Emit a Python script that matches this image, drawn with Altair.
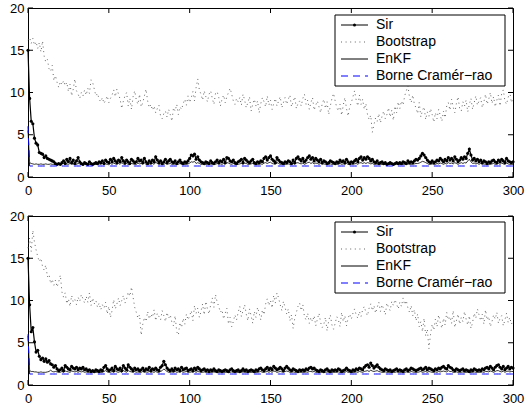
import altair as alt
import pandas as pd

# ---------------- data ----------------
X_TICKS = [0, 50, 100, 150, 200, 250, 300]
Y_TICKS = [0, 5, 10, 15, 20]
LEGEND_LABELS = ["Sir", "Bootstrap", "EnKF", "Borne Cramér\u2212rao"]

BOOT_TOP = [
    16.2, 16.5, 15.8, 16.4, 15.6, 16.0, 15.2, 15.9, 14.8, 16.1,
    14.3, 13.6, 13.9, 12.8, 12.5, 13.2, 11.4, 12.0, 11.2, 10.6,
    11.3, 10.9, 11.4, 10.8, 11.2, 10.1, 11.0, 9.6, 10.4, 11.6,
    10.2, 9.8, 9.3, 10.0, 9.6, 10.3, 9.7, 10.5, 9.9, 11.5,
    11.2, 10.4, 9.6, 9.9, 9.2, 8.9, 9.4, 8.7, 9.1, 9.6,
    8.8, 9.3, 9.7, 10.3, 9.5, 10.4, 9.8, 9.2, 8.1, 9.0,
    9.6, 10.0, 8.4, 9.3, 8.0, 9.5, 10.2, 9.1, 8.6, 9.8,
    8.3, 8.8, 9.6, 10.4, 9.0, 8.2, 8.6, 7.9, 8.4, 7.6,
    8.1, 8.5, 7.2, 6.9, 7.5, 7.8, 7.1, 8.0, 7.4, 6.6,
    8.2, 7.8, 8.6, 7.4, 8.3, 8.0, 8.7, 9.2, 8.5, 9.6,
    8.8, 9.4, 10.1, 9.0, 10.6, 11.6, 10.3, 9.8, 9.1, 10.2,
    9.5, 8.9, 9.8, 10.2, 9.3, 8.6, 9.9, 10.1, 9.4, 8.4,
    9.2, 9.7, 8.8, 9.5, 10.0, 10.5, 9.8, 9.0, 8.6, 9.3,
    8.9, 9.4, 8.5, 9.8, 9.1, 8.2, 8.8, 9.5, 7.8, 8.6,
    9.2, 8.4, 9.0, 7.6, 8.7, 9.4, 8.9, 8.3, 9.6, 8.5,
    9.1, 8.0, 8.7, 9.3, 8.4, 9.0, 9.5, 8.2, 8.8, 9.4,
    8.6, 9.2, 9.7, 8.3, 8.9, 9.5, 8.1, 8.7, 9.0, 8.4,
    9.3, 9.8, 8.6, 9.1, 8.0, 8.8, 9.4, 7.9, 8.5, 9.0,
    8.3, 7.6, 8.7, 9.2, 8.1, 8.9, 7.4, 8.4, 9.3, 9.9,
    9.0, 8.2, 7.8, 8.6, 7.3, 8.5, 9.4, 8.1, 7.2, 8.3,
    8.8, 9.5, 10.2, 9.1, 8.4, 9.7, 8.6, 9.2, 8.0, 8.7,
    7.4, 6.8, 7.3, 5.3, 6.2, 7.0, 6.6, 7.5, 6.4, 7.2,
    7.8, 6.9, 7.4, 8.2, 7.1, 7.9, 6.7, 8.4, 7.6, 8.9,
    8.1, 9.0, 8.5, 9.6, 10.2, 10.8, 9.4, 8.8, 9.7, 8.6,
    8.2, 7.5, 8.8, 7.1, 7.9, 8.3, 6.8, 7.7, 7.2, 8.1,
    7.4, 6.5, 7.6, 6.9, 8.0, 7.3, 6.6, 7.8, 7.0, 8.4,
    8.8, 7.9, 9.2, 8.3, 7.6, 8.7, 9.5, 8.1, 7.8, 8.9,
    8.4, 9.1, 7.7, 8.6, 9.3, 8.0, 8.8, 9.6, 8.5, 9.0,
    9.4, 8.2, 8.9, 9.8, 8.6, 9.2, 10.0, 8.7, 9.5, 8.3,
    9.1, 9.7, 8.4, 9.9, 10.3, 9.0, 8.6, 9.4, 10.1, 8.8,
    9.3,
]

SIR_TOP = [
    15.0, 9.3, 6.6, 6.3, 4.6, 4.0, 3.8, 2.9, 2.8, 2.7,
    2.3, 2.5, 2.2, 2.1, 2.0, 1.9, 1.8, 1.6, 1.5, 1.6,
    1.5, 1.7, 1.9, 1.6, 2.1, 1.8, 2.2, 1.7, 2.0, 1.6,
    1.9, 2.3, 1.8, 1.6, 1.5, 1.7, 1.6, 1.5, 1.8, 1.6,
    1.5, 1.6, 1.7, 1.6, 1.8, 1.7, 1.9, 1.6, 2.0, 1.8,
    1.7, 2.1, 1.8, 2.2, 1.9, 1.7, 2.0, 1.8, 2.3, 1.9,
    1.7, 2.0, 1.8, 1.6, 2.1, 1.9, 1.7, 1.8, 2.2, 1.9,
    2.0, 1.7, 2.2, 1.8, 1.6, 1.9, 1.7, 2.0, 1.8, 2.4,
    2.0, 1.7, 1.9, 1.6, 1.8, 2.1, 1.7, 1.9, 2.1, 1.8,
    1.7, 1.9, 1.6, 1.8, 2.0, 1.7, 1.6, 1.8, 1.7, 1.9,
    2.2, 2.6, 2.5, 2.7, 2.1, 2.4, 2.0, 1.8, 1.7, 1.6,
    1.8, 1.7, 1.6, 1.9, 1.7, 1.6, 1.8, 2.0, 1.7, 1.9,
    1.8, 2.1, 1.7, 2.3, 2.2, 1.9, 1.8, 2.0, 1.7, 1.6,
    1.8, 1.9, 2.1, 1.7, 2.2, 2.0, 1.8, 1.7, 1.9, 2.1,
    1.7, 1.6, 1.8, 1.7, 1.9, 1.8, 2.2, 2.4, 2.0, 2.3,
    2.5, 2.1, 1.9, 1.7, 2.3, 2.0, 1.8, 1.7, 1.6, 1.8,
    1.7, 1.9, 1.8, 1.6, 2.0, 1.7, 2.2, 2.4, 2.1, 1.9,
    2.2, 1.8, 2.0, 2.3, 2.5, 2.1, 2.3, 1.9, 2.2, 2.0,
    1.8, 2.1, 1.7, 1.9, 1.8, 1.6, 1.7, 1.9, 1.8, 1.7,
    1.6, 1.8, 1.7, 2.0, 1.8, 1.9, 1.7, 2.1, 1.8, 1.6,
    1.8, 1.7, 1.9, 2.1, 1.8, 2.2, 2.4, 2.0, 2.3, 2.1,
    2.4, 2.2, 1.9, 2.1, 1.8, 1.7, 1.9, 1.6, 1.7, 1.8,
    1.6, 1.7, 1.5, 1.6, 1.7, 1.6, 1.5, 1.6, 1.7, 1.6,
    1.7, 1.6, 1.8, 1.7, 1.6, 1.9, 1.7, 1.8, 1.7, 1.9,
    2.1, 2.0, 2.2, 2.5, 2.8, 2.6, 2.3, 2.0, 1.8, 1.7,
    1.9, 1.7, 1.8, 2.0, 1.9, 2.2, 2.0, 1.8, 2.1, 1.9,
    2.3, 2.0, 2.2, 1.9, 2.4, 2.1, 1.8, 2.0, 2.3, 2.1,
    2.4, 2.2, 2.8, 3.3, 2.6, 2.0, 2.2, 1.9, 2.1, 1.8,
    2.0, 1.7, 1.9, 1.8, 1.6, 1.8, 1.7, 1.9, 2.0, 1.8,
    1.7, 2.0, 1.8, 2.1, 1.9, 1.7, 2.2, 1.9, 1.8, 1.7,
    1.8,
]

ENKF_TOP = [
    5.5, 1.7, 1.6, 1.55, 1.5, 1.55, 1.5, 1.5, 1.55, 1.5,
    1.5, 1.55, 1.5, 1.5, 1.55, 1.5, 1.5, 1.45, 1.5, 1.45,
    1.5, 1.55, 1.6, 1.5, 1.55, 1.5, 1.6, 1.5, 1.55, 1.45,
    1.5, 1.6, 1.55, 1.45, 1.4, 1.5, 1.45, 1.4, 1.5, 1.45,
    1.4, 1.45, 1.5, 1.45, 1.55, 1.5, 1.6, 1.45, 1.55, 1.5,
    1.45, 1.6, 1.5, 1.65, 1.55, 1.5, 1.6, 1.5, 1.7, 1.55,
    1.45, 1.6, 1.5, 1.45, 1.6, 1.55, 1.5, 1.5, 1.65, 1.55,
    1.6, 1.5, 1.65, 1.5, 1.45, 1.55, 1.5, 1.6, 1.5, 1.75,
    1.6, 1.5, 1.55, 1.45, 1.5, 1.6, 1.5, 1.55, 1.6, 1.5,
    1.5, 1.55, 1.45, 1.5, 1.6, 1.5, 1.45, 1.5, 1.5, 1.55,
    1.65, 1.8, 1.75, 1.85, 1.6, 1.7, 1.6, 1.5, 1.5, 1.45,
    1.5, 1.5, 1.45, 1.55, 1.5, 1.45, 1.5, 1.6, 1.5, 1.55,
    1.5, 1.6, 1.5, 1.7, 1.65, 1.55, 1.5, 1.6, 1.5, 1.45,
    1.5, 1.55, 1.6, 1.5, 1.65, 1.6, 1.5, 1.5, 1.55, 1.6,
    1.5, 1.45, 1.5, 1.5, 1.55, 1.5, 1.65, 1.7, 1.6, 1.7,
    1.75, 1.6, 1.55, 1.5, 1.7, 1.6, 1.5, 1.5, 1.45, 1.5,
    1.5, 1.55, 1.5, 1.45, 1.6, 1.5, 1.65, 1.7, 1.6, 1.55,
    1.65, 1.5, 1.6, 1.7, 1.75, 1.6, 1.7, 1.55, 1.65, 1.6,
    1.5, 1.6, 1.5, 1.55, 1.5, 1.45, 1.5, 1.55, 1.5, 1.5,
    1.45, 1.5, 1.5, 1.6, 1.5, 1.55, 1.5, 1.6, 1.5, 1.45,
    1.5, 1.5, 1.55, 1.6, 1.5, 1.65, 1.7, 1.6, 1.7, 1.6,
    1.7, 1.65, 1.55, 1.6, 1.5, 1.5, 1.55, 1.45, 1.5, 1.5,
    1.45, 1.5, 1.4, 1.45, 1.5, 1.45, 1.4, 1.45, 1.5, 1.45,
    1.5, 1.45, 1.5, 1.5, 1.45, 1.55, 1.5, 1.5, 1.5, 1.55,
    1.6, 1.6, 1.65, 1.75, 1.85, 1.8, 1.7, 1.6, 1.5, 1.5,
    1.55, 1.5, 1.5, 1.6, 1.55, 1.65, 1.6, 1.5, 1.6, 1.55,
    1.7, 1.6, 1.65, 1.55, 1.7, 1.6, 1.5, 1.6, 1.7, 1.6,
    1.7, 1.65, 1.9, 2.1, 1.8, 1.6, 1.65, 1.55, 1.6, 1.5,
    1.6, 1.5, 1.55, 1.5, 1.45, 1.5, 1.5, 1.55, 1.6, 1.5,
    1.5, 1.6, 1.5, 1.65, 1.55, 1.5, 1.65, 1.55, 1.5, 1.5,
    1.5,
]

CRB_TOP = [6.0] + [1.3] * 300

BOOT_BOT = [
    16.2, 17.4, 15.8, 18.3, 16.9, 16.0, 15.2, 14.6, 15.0, 14.0,
    13.6, 14.2, 12.8, 13.1, 12.0, 12.5, 11.8, 12.4, 11.6, 12.2,
    13.0, 11.0, 10.4, 10.9, 9.6, 10.2, 9.3, 10.6, 9.8, 10.1,
    9.5, 10.4, 9.9, 10.7, 10.2, 9.7, 10.5, 9.8, 10.9, 9.4,
    10.3, 9.6, 10.0, 9.2, 9.7, 8.9, 9.5, 9.1, 9.8, 8.4,
    9.3, 8.0, 8.8, 10.1, 9.0, 9.6, 10.3, 9.4, 10.0, 10.6,
    9.7, 10.2, 11.0, 10.5, 11.6, 10.4, 9.2, 8.6, 7.9, 8.3,
    5.9, 7.2, 8.0, 7.5, 8.7, 7.8, 8.4, 8.0, 8.9, 7.6,
    8.5, 8.1, 7.7, 8.8, 8.2, 7.5, 8.6, 7.9, 8.3, 7.4,
    7.0, 8.2, 6.3, 5.9, 7.4, 6.8, 7.9, 7.2, 8.4, 7.7,
    8.2, 8.8, 7.6, 9.4, 8.5, 9.1, 8.0, 8.7, 9.6, 8.3,
    9.9, 9.0, 8.4, 9.5, 10.3, 9.2, 10.7, 9.8, 9.3, 8.6,
    8.9, 7.8, 8.5, 9.1, 7.2, 8.0, 6.9, 7.5, 8.3, 7.7,
    8.6, 9.3, 8.1, 8.8, 9.5, 8.4, 7.6, 9.0, 8.2, 7.3,
    8.7, 8.0, 9.2, 8.5, 7.7, 8.9, 8.3, 9.6, 10.2, 9.4,
    10.0, 9.1, 10.6, 9.7, 10.9, 10.3, 9.5, 8.8, 9.9, 9.2,
    8.4, 9.0, 7.6, 8.3, 6.7, 7.9, 8.6, 9.3, 9.7, 8.8,
    9.5, 8.1, 7.7, 8.5, 7.3, 8.0, 7.5, 8.2, 7.0, 7.8,
    8.5, 7.4, 6.8, 7.2, 8.0, 6.4, 7.6, 8.3, 7.1, 6.6,
    7.3, 8.1, 7.7, 6.9, 8.6, 7.5, 8.2, 7.0, 7.9, 8.4,
    7.8, 8.5, 9.0, 8.3, 7.9, 8.7, 8.1, 8.9, 9.3, 8.6,
    8.2, 9.1, 9.6, 8.8, 9.4, 8.5, 9.2, 9.8, 8.7, 9.5,
    9.0, 8.3, 9.7, 9.2, 8.8, 9.9, 9.4, 10.1, 9.6, 9.0,
    9.8, 9.3, 10.3, 9.5, 10.0, 9.1, 8.6, 9.4, 8.2, 8.9,
    7.6, 8.4, 6.9, 7.5, 6.3, 7.9, 5.8, 6.6, 4.3, 6.0,
    7.2, 6.5, 7.8, 6.9, 8.3, 7.4, 6.7, 7.9, 7.1, 8.6,
    7.7, 8.1, 7.3, 8.8, 6.8, 7.6, 8.4, 7.2, 8.0, 7.5,
    8.7, 7.8, 7.1, 8.2, 6.7, 7.4, 8.5, 7.9, 9.0, 8.3,
    7.6, 8.4, 7.2, 8.9, 7.7, 8.1, 6.9, 7.5, 8.3, 7.8,
    8.6, 7.3, 7.9, 8.2, 7.0, 7.7, 8.5, 7.4, 8.0, 7.2,
    7.6,
]

SIR_BOT = [
    15.0, 9.5, 6.3, 6.8, 5.1, 3.9, 4.1, 3.4, 3.0, 3.2,
    2.8, 3.1, 2.7, 2.9, 2.5, 2.4, 2.1, 2.3, 1.9, 1.7,
    1.8, 2.0, 1.7, 2.3, 2.1, 1.9, 1.8, 2.2, 2.0, 1.9,
    2.1, 1.8, 2.0, 1.9, 2.1, 1.8, 1.9, 1.7, 1.8, 1.6,
    1.7, 1.6, 1.8, 1.7, 1.6, 1.8, 1.7, 2.1, 2.3, 1.9,
    1.7, 1.8, 2.0, 1.7, 2.2, 1.9, 1.8, 2.0, 1.7, 2.3,
    2.0, 1.8, 2.4, 2.1, 1.9, 1.7, 2.0, 1.8, 1.9, 1.7,
    1.8, 2.0, 1.7, 1.9, 1.8, 2.1, 1.7, 1.9, 1.8, 2.0,
    1.8, 1.7, 2.1, 2.3, 2.8, 2.4, 2.0, 1.8, 1.7, 1.9,
    1.7, 2.0, 1.8, 1.9, 1.7, 2.1, 1.8, 1.9, 2.0, 1.7,
    1.8, 1.9, 1.7, 2.0, 1.8, 2.1, 1.9, 1.7, 1.8, 1.9,
    1.7, 1.8, 1.6, 1.8, 1.7, 1.9, 1.7, 1.6, 1.8, 1.7,
    1.6, 1.7, 1.8, 1.7, 1.6, 1.8, 1.9, 1.7, 1.6, 1.7,
    1.8, 1.6, 1.7, 1.9, 1.7, 1.8, 1.6, 1.7, 1.8, 1.7,
    1.6, 1.8, 1.7, 1.9, 2.0, 1.8, 1.7, 1.9, 2.1, 1.8,
    2.0, 1.8, 2.2, 2.0, 1.8, 1.9, 2.1, 1.9, 1.7, 2.0,
    2.2, 2.0, 1.8, 1.7, 1.9, 1.8, 1.7, 1.6, 1.8, 1.7,
    1.8, 1.7, 1.9, 1.8, 2.0, 2.1, 1.9, 2.0, 1.8, 1.7,
    1.6, 1.8, 1.7, 1.6, 1.8, 1.9, 1.7, 1.6, 1.8, 1.7,
    1.8, 1.7, 1.9, 1.8, 1.6, 1.7, 1.8, 2.0, 1.8, 1.7,
    1.6, 1.8, 1.7, 1.9, 1.8, 2.0, 1.9, 1.8, 2.1, 2.3,
    2.4, 2.1, 2.6, 2.3, 2.0, 2.2, 2.4, 2.1, 1.9, 1.8,
    1.7, 1.9, 1.8, 1.7, 1.8, 1.6, 1.7, 1.8, 1.9, 1.7,
    1.8, 1.7, 1.6, 1.8, 1.9, 1.7, 1.8, 2.0, 1.9, 1.8,
    1.7, 1.8, 1.9, 2.0, 1.8, 1.9, 2.1, 1.8, 2.0, 1.9,
    1.8, 1.7, 1.9, 1.8, 2.0, 1.9, 2.1, 2.2, 2.0, 1.9,
    2.3, 2.1, 2.0, 1.8, 1.7, 1.9, 1.8, 1.7, 1.8, 1.9,
    1.7, 1.8, 1.7, 1.6, 1.8, 1.7, 1.9, 1.8, 1.7, 1.8,
    1.7, 1.9, 1.8, 2.0, 2.1, 1.9, 2.2, 2.0, 1.8, 2.1,
    2.3, 2.4, 2.1, 1.9, 2.2, 1.8, 2.0, 2.2, 1.9, 2.1,
    2.0,
]

ENKF_BOT = [
    5.8, 1.7, 1.6, 1.6, 1.55, 1.55, 1.5, 1.5, 1.55, 1.5,
    1.5, 1.5, 1.55, 1.6, 1.75, 1.6, 1.55, 1.6, 1.55, 1.5,
    1.5, 1.6, 1.5, 1.65, 1.6, 1.55, 1.5, 1.65, 1.6, 1.55,
    1.6, 1.5, 1.6, 1.55, 1.6, 1.5, 1.55, 1.5, 1.5, 1.45,
    1.5, 1.45, 1.5, 1.5, 1.45, 1.5, 1.5, 1.6, 1.7, 1.55,
    1.5, 1.5, 1.6, 1.5, 1.65, 1.55, 1.5, 1.6, 1.5, 1.7,
    1.6, 1.5, 1.7, 1.6, 1.55, 1.5, 1.6, 1.5, 1.55, 1.5,
    1.5, 1.6, 1.5, 1.55, 1.5, 1.6, 1.5, 1.55, 1.5, 1.6,
    1.5, 1.5, 1.6, 1.7, 1.9, 1.75, 1.6, 1.5, 1.5, 1.55,
    1.5, 1.6, 1.5, 1.55, 1.5, 1.6, 1.5, 1.55, 1.6, 1.5,
    1.5, 1.55, 1.5, 1.6, 1.5, 1.6, 1.55, 1.5, 1.5, 1.55,
    1.5, 1.5, 1.45, 1.5, 1.5, 1.55, 1.5, 1.45, 1.5, 1.5,
    1.45, 1.5, 1.5, 1.5, 1.45, 1.5, 1.55, 1.5, 1.45, 1.5,
    1.5, 1.45, 1.5, 1.55, 1.5, 1.5, 1.45, 1.5, 1.5, 1.5,
    1.45, 1.5, 1.5, 1.55, 1.6, 1.5, 1.5, 1.55, 1.6, 1.5,
    1.6, 1.5, 1.65, 1.6, 1.5, 1.55, 1.6, 1.55, 1.5, 1.6,
    1.65, 1.6, 1.5, 1.5, 1.55, 1.5, 1.5, 1.45, 1.5, 1.5,
    1.5, 1.5, 1.55, 1.5, 1.6, 1.6, 1.55, 1.6, 1.5, 1.5,
    1.45, 1.5, 1.5, 1.45, 1.5, 1.55, 1.5, 1.45, 1.5, 1.5,
    1.5, 1.5, 1.55, 1.5, 1.45, 1.5, 1.5, 1.6, 1.5, 1.5,
    1.45, 1.5, 1.5, 1.55, 1.5, 1.6, 1.55, 1.5, 1.6, 1.65,
    1.7, 1.6, 1.75, 1.65, 1.6, 1.65, 1.7, 1.6, 1.55, 1.5,
    1.5, 1.55, 1.5, 1.5, 1.5, 1.45, 1.5, 1.5, 1.55, 1.5,
    1.5, 1.5, 1.45, 1.5, 1.55, 1.5, 1.5, 1.6, 1.55, 1.5,
    1.5, 1.5, 1.55, 1.6, 1.5, 1.55, 1.6, 1.5, 1.6, 1.55,
    1.5, 1.5, 1.55, 1.5, 1.6, 1.55, 1.6, 1.65, 1.6, 1.55,
    1.7, 1.6, 1.6, 1.5, 1.5, 1.55, 1.5, 1.5, 1.5, 1.55,
    1.5, 1.5, 1.5, 1.45, 1.5, 1.5, 1.55, 1.5, 1.5, 1.5,
    1.5, 1.55, 1.5, 1.6, 1.6, 1.55, 1.65, 1.6, 1.5, 1.6,
    1.7, 1.7, 1.6, 1.55, 1.65, 1.5, 1.6, 1.65, 1.55, 1.6,
    1.6,
]

CRB_BOT = [6.0] + [1.3] * 300

# ---------------- styling ----------------
W, H = 485, 169
FONT = "Liberation Sans"
TICK_LEN = 5
BOOT_COLOR = "#555555"
BOOT_DASH = [1, 3.6]

xs = alt.Scale(domain=[0, 300], nice=False, zero=False)
ys = alt.Scale(domain=[0, 20], nice=False)

x_axis = alt.Axis(values=X_TICKS, title=None, grid=False, ticks=False, domain=False,
                  labelPadding=7, labelFontSize=13, labelFont=FONT, labelColor="black",
                  labelFlush=False, format="d")
y_axis = alt.Axis(values=Y_TICKS, title=None, grid=False, ticks=False, domain=False,
                  labelPadding=4, labelFontSize=13, labelFont=FONT, labelColor="black",
                  format="d")

X = lambda f: alt.X(f, scale=xs, axis=x_axis)
Y = lambda f: alt.Y(f, scale=ys, axis=y_axis)


def series_df(vals):
    return pd.DataFrame({"t": list(range(len(vals))), "v": vals})


def panel(boot, sir, enkf, crb, leg_top):
    layers = []
    # Bootstrap
    layers.append(alt.Chart(series_df(boot)).mark_line(
        color=BOOT_COLOR, strokeWidth=0.9, strokeDash=BOOT_DASH).encode(x=X("t:Q"), y=Y("v:Q")))
    # Sir
    layers.append(alt.Chart(series_df(sir)).mark_line(color="black", strokeWidth=1.2).encode(
        x=X("t:Q"), y=Y("v:Q")))
    layers.append(alt.Chart(series_df(sir)).mark_point(filled=True, color="black", size=10, opacity=1).encode(
        x=X("t:Q"), y=Y("v:Q")))
    # EnKF
    layers.append(alt.Chart(series_df(enkf)).mark_line(color="black", strokeWidth=0.8).encode(
        x=X("t:Q"), y=Y("v:Q")))
    # CRB
    layers.append(alt.Chart(series_df(crb)).mark_line(color="#0000ff", strokeWidth=1, strokeDash=[7, 5]).encode(
        x=X("t:Q"), y=Y("v:Q")))

    # inward ticks on four sides
    xt = pd.DataFrame({"t": X_TICKS})
    yt = pd.DataFrame({"v": Y_TICKS})
    layers.append(alt.Chart(xt).mark_rule(color="black", strokeWidth=1).encode(
        x=X("t:Q"), y=alt.value(H), y2=alt.value(H - TICK_LEN)))
    layers.append(alt.Chart(xt).mark_rule(color="black", strokeWidth=1).encode(
        x=X("t:Q"), y=alt.value(0), y2=alt.value(TICK_LEN)))
    layers.append(alt.Chart(yt).mark_rule(color="black", strokeWidth=1).encode(
        y=Y("v:Q"), x=alt.value(0), x2=alt.value(TICK_LEN)))
    layers.append(alt.Chart(yt).mark_rule(color="black", strokeWidth=1).encode(
        y=Y("v:Q"), x=alt.value(W), x2=alt.value(W - TICK_LEN)))

    # legend box
    one = pd.DataFrame({"a": [0]})
    lx0, lx1 = 307, 477
    ly0, ly1 = leg_top, leg_top + 71
    layers.append(alt.Chart(one).mark_rect(fill="white", stroke="black", strokeWidth=1).encode(
        x=alt.value(lx0), x2=alt.value(lx1), y=alt.value(ly0), y2=alt.value(ly1)))
    row_y = [leg_top + 10 + 17 * i for i in range(4)]
    sx0, sx1, tx = 313, 340, 348
    styles = [
        dict(color="black", strokeWidth=1),
        dict(color=BOOT_COLOR, strokeWidth=0.9, strokeDash=BOOT_DASH),
        dict(color="black", strokeWidth=1),
        dict(color="#0000ff", strokeWidth=1, strokeDash=[7, 5]),
    ]
    for i, lab in enumerate(LEGEND_LABELS):
        layers.append(alt.Chart(one).mark_rule(**styles[i]).encode(
            x=alt.value(sx0), x2=alt.value(sx1), y=alt.value(row_y[i])))
        layers.append(alt.Chart(one).mark_text(align="left", baseline="middle", font=FONT,
                                               fontSize=14, color="black").encode(
            x=alt.value(tx), y=alt.value(row_y[i]), text=alt.value(lab)))
    layers.append(alt.Chart(one).mark_point(filled=True, color="black", size=9, opacity=1).encode(
        x=alt.value((sx0 + sx1) / 2), y=alt.value(row_y[0])))

    return alt.layer(*layers).properties(width=W, height=H)


top = panel(BOOT_TOP, SIR_TOP, ENKF_TOP, CRB_TOP, 7)
bot = panel(BOOT_BOT, SIR_BOT, ENKF_BOT, CRB_BOT, 6)

chart = alt.vconcat(top, bot, spacing=11).properties(
    padding={"left": 9, "top": 1, "right": 0, "bottom": 0},
    background="white",
).configure_view(stroke="black", strokeWidth=1)

chart.save("out.html", embed_options={"renderer": "svg", "actions": False})
